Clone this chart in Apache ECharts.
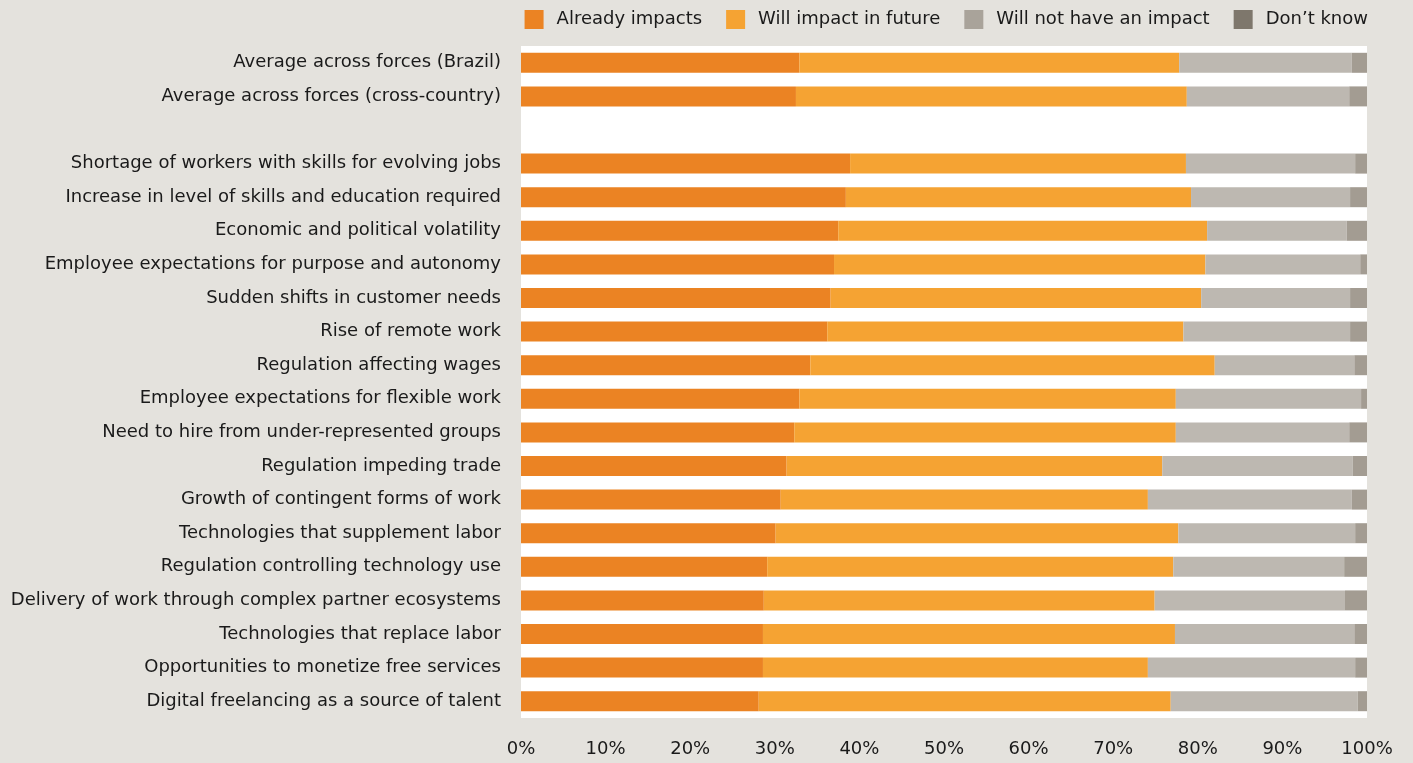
<!DOCTYPE html>
<html>
<head>
<meta charset="utf-8">
<title>Forces impact</title>
<script src="https://cdn.jsdelivr.net/npm/echarts@6/dist/echarts.min.js"></script>
<style>
  html, body { margin: 0; padding: 0; background: #E4E2DD; }
  #chart { width: 1413px; height: 763px; }
</style>
</head>
<body>
<div id="chart"></div>
<script>
  // rows top to bottom, '' is the spacer row
  var categories = [
    'Average across forces (Brazil)',
    'Average across forces (cross-country)',
    '',
    'Shortage of workers with skills for evolving jobs',
    'Increase in level of skills and education required',
    'Economic and political volatility',
    'Employee expectations for purpose and autonomy',
    'Sudden shifts in customer needs',
    'Rise of remote work',
    'Regulation affecting wages',
    'Employee expectations for flexible work',
    'Need to hire from under-represented groups',
    'Regulation impeding trade',
    'Growth of contingent forms of work',
    'Technologies that supplement labor',
    'Regulation controlling technology use',
    'Delivery of work through complex partner ecosystems',
    'Technologies that replace labor',
    'Opportunities to monetize free services',
    'Digital freelancing as a source of talent'
  ]
  var alreadyImpacts = [32.9, 32.5, null, 38.9, 38.4, 37.5, 37.0, 36.6, 36.2, 34.2, 32.9, 32.3, 31.4, 30.7, 30.1, 29.1, 28.7, 28.6, 28.6, 28.1]
  var willImpact = [44.9, 46.2, null, 39.7, 40.8, 43.6, 43.9, 43.8, 42.1, 47.8, 44.5, 45.1, 44.4, 43.4, 47.6, 48.0, 46.2, 48.7, 45.5, 48.7]
  var willNotImpact = [20.4, 19.2, null, 20.0, 18.8, 16.5, 18.3, 17.6, 19.7, 16.5, 21.9, 20.5, 22.5, 24.1, 20.9, 20.2, 22.5, 21.2, 24.5, 22.1]
  var dontKnow = [1.8, 2.1, null, 1.4, 2.0, 2.4, 0.8, 2.0, 2.0, 1.5, 0.7, 2.1, 1.7, 1.8, 1.4, 2.7, 2.6, 1.5, 1.4, 1.1]
  var xTicks = [0, 10, 20, 30, 40, 50, 60, 70, 80, 90, 100]

  var seriesNames = ['Already impacts', 'Will impact in future', 'Will not have an impact', 'Don\u2019t know']
  var barColors = ['#EB8323', '#F5A333', '#BDB8B1', '#A39C92']
  var legendColors = ['#EB8323', '#F5A333', '#A9A39A', '#7E776C']
  var values = [alreadyImpacts, willImpact, willNotImpact, dontKnow]

  var font = '"DejaVu Sans", sans-serif'
  var myChart = echarts.init(document.getElementById('chart'))

  var series = seriesNames.map(function (name, i) {
    return {
      name: name,
      type: 'bar',
      stack: 'total',
      barWidth: 20,
      data: values[i],
      itemStyle: { color: barColors[i] },
      label: { show: false },
      emphasis: { disabled: true }
    }
  })

  var option = {
    backgroundColor: '#E4E2DD',
    animation: false,
    textStyle: { fontFamily: font },
    legend: {
      right: 40,
      top: 5,
      icon: 'rect',
      itemWidth: 19,
      itemHeight: 19,
      itemGap: 24,
      data: seriesNames.map(function (n, i) {
        return { name: n, itemStyle: { color: legendColors[i] } }
      }),
      textStyle: {
        fontSize: 18,
        color: '#1A1A1A',
        fontFamily: font,
        padding: [0, 0, 0, 8]
      }
    },
    grid: {
      left: 521,
      right: 46,
      top: 46,
      bottom: 45,
      show: true,
      backgroundColor: '#FFFFFF',
      borderWidth: 0
    },
    xAxis: {
      type: 'value',
      min: xTicks[0],
      max: xTicks[xTicks.length - 1],
      interval: xTicks[1] - xTicks[0],
      axisLine: { show: false },
      axisTick: { show: false },
      splitLine: { show: false },
      axisLabel: {
        margin: 22,
        fontSize: 18,
        color: '#1A1A1A',
        fontFamily: font,
        formatter: '{value}%'
      }
    },
    yAxis: {
      type: 'category',
      inverse: true,
      data: categories,
      axisLine: { show: false },
      axisTick: { show: false },
      splitLine: { show: false },
      axisLabel: {
        margin: 20,
        fontSize: 18,
        color: '#1A1A1A',
        fontFamily: font
      }
    },
    series: series
  }
  myChart.setOption(option)
</script>
</body>
</html>
